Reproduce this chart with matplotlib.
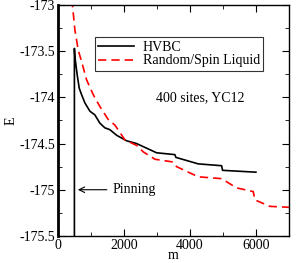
import matplotlib
matplotlib.use("Agg")
import matplotlib.pyplot as plt
from matplotlib.ticker import MultipleLocator

plt.rcParams["font.family"] = ["Liberation Serif", "DejaVu Serif"]

# HVBC: pinning step at m=500, then relaxation
hvbc_m = [500, 500, 515, 586, 646, 717, 818, 970, 1121, 1273, 1424, 1576, 1778,
          2081, 2384, 2990, 3545, 3576, 4252, 4960, 4990, 6000]
hvbc_E = [-175.5, -173.47, -173.56, -173.76, -173.90, -173.97, -174.06, -174.15,
          -174.19, -174.28, -174.33, -174.35, -174.41, -174.47, -174.50, -174.60,
          -174.62, -174.65, -174.72, -174.74, -174.79, -174.81]

# Random / spin liquid start
rsl_m = [400, 515, 616, 717, 869, 1070, 1273, 1525, 1727, 2030, 2384, 2586, 2940,
         3495, 3596, 4252, 4960, 5414, 5919, 5970, 6424, 7000]
rsl_E = [-172.85, -173.27, -173.49, -173.61, -173.81, -173.97, -174.10, -174.24,
         -174.30, -174.46, -174.52, -174.59, -174.67, -174.70, -174.75, -174.86,
         -174.88, -174.98, -175.02, -175.11, -175.18, -175.19]

fig = plt.figure(figsize=(3.0, 2.63), dpi=100)
ax = fig.add_axes([0.193, 0.103, 0.77, 0.878])

ax.plot(hvbc_m, hvbc_E, color="black", lw=1.2, label="HVBC")
ax.plot(rsl_m, rsl_E, color="red", lw=1.2, ls=(0, (5, 3)), label="Random/Spin Liquid")

ax.set_xlim(0, 7000)
ax.set_ylim(-175.5, -173)
ax.xaxis.set_major_locator(MultipleLocator(2000))
ax.xaxis.set_minor_locator(MultipleLocator(1000))
ax.yaxis.set_major_locator(MultipleLocator(0.5))
ax.yaxis.set_minor_locator(MultipleLocator(0.25))
ax.tick_params(which="both", direction="in", top=True, right=True, labelsize=10)
ax.tick_params(which="major", length=5, pad=2)
ax.tick_params(which="minor", length=3)
ax.set_yticklabels([f"{v:g}" for v in ax.get_yticks()])
for s in ax.spines.values():
    s.set_linewidth(1.0)
ax.spines["left"].set_linewidth(2)

ax.set_xlabel("m", fontsize=10, labelpad=-2)
ax.set_ylabel("E", fontsize=10, labelpad=1)

leg = ax.legend(loc="upper left", bbox_to_anchor=(0.16, 0.86), fontsize=10,
                frameon=True, fancybox=False, edgecolor="black", handlelength=2.6,
                borderpad=0.25, labelspacing=0.05, borderaxespad=0,
                handletextpad=0.6)
leg.get_frame().set_linewidth(0.8)

ax.text(4300, -174.0, "400 sites, YC12", fontsize=10, ha="center", va="center")
ax.annotate("Pinning", xy=(520, -175.0), xytext=(1650, -175.0), fontsize=10,
            va="center", ha="left",
            arrowprops=dict(arrowstyle="->", color="black", lw=0.8))

fig.savefig("out.png", dpi=100)
